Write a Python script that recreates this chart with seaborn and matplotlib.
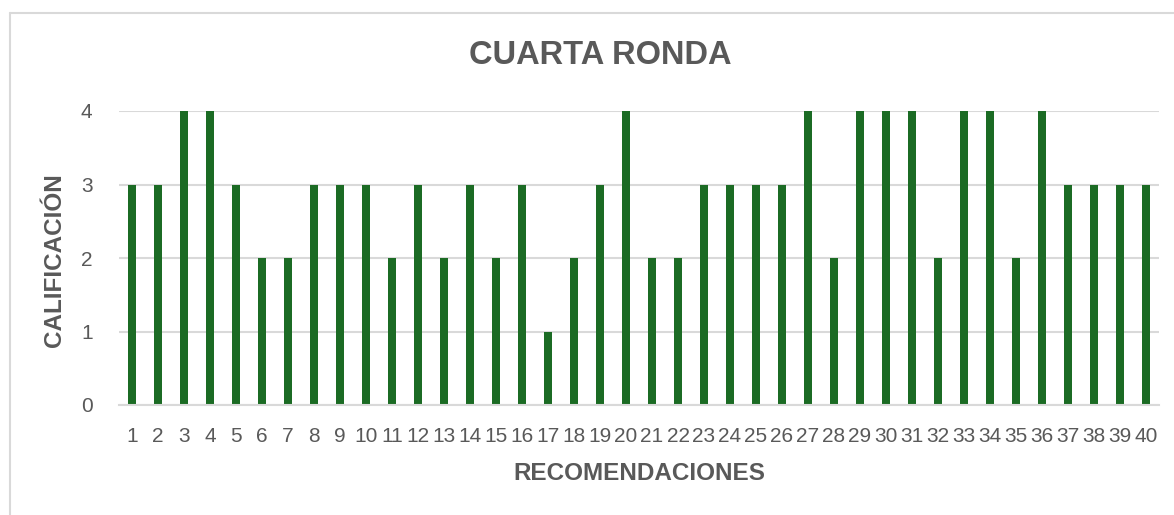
import numpy as np
import pandas as pd
import matplotlib.pyplot as plt
import seaborn as sns
from matplotlib.lines import Line2D

# datos de la cuarta ronda
recomendaciones = [str(i) for i in range(1, 41)]
calificacion = [3, 3, 4, 4, 3, 2, 2, 3, 3, 3,
                2, 3, 2, 3, 2, 3, 1, 2, 3, 4,
                2, 2, 3, 3, 3, 3, 4, 2, 4, 4,
                4, 2, 4, 4, 2, 4, 3, 3, 3, 3]
yticks = [0, 1, 2, 3, 4]

df = pd.DataFrame({'recomendacion': recomendaciones, 'calificacion': calificacion})

sns.set_theme(style='white')
plt.rcParams['font.family'] = ['Liberation Sans', 'DejaVu Sans']

gris = '#595959'
verde = '#1B6B24'
linea = '#D9D9D9'

W, H = 1174, 515
fig = plt.figure(figsize=(W / 100, H / 100), dpi=100)
ax = fig.add_axes([119 / W, 1 - 405 / H, (1159 - 119) / W, (405 - 111) / H])

sns.barplot(data=df, x='recomendacion', y='calificacion', color=verde,
            width=0.31, saturation=1, linewidth=0, ax=ax)

ax.set_xlim(-0.5, len(recomendaciones) - 0.5)
ax.set_ylim(0, 4)
ax.set_yticks(yticks)
ax.set_yticklabels([str(t) for t in yticks])
ax.yaxis.grid(True, color=linea, linewidth=1.5)
ax.set_axisbelow(True)
for s in ['top', 'right', 'left']:
    ax.spines[s].set_visible(False)
ax.spines['bottom'].set_color(linea)
ax.spines['bottom'].set_linewidth(1.5)
ax.tick_params(axis='x', length=0, pad=16, labelsize=15, labelcolor=gris)
ax.tick_params(axis='y', length=0, pad=19, labelsize=15, labelcolor=gris)
ax.set_xlabel('')
ax.set_ylabel('')

fig.text(600 / W, 1 - 56 / H, 'CUARTA RONDA', ha='center', va='center',
         fontsize=23.5, fontweight='bold', color=gris)
fig.text(639 / W, 1 - 474 / H, 'RECOMENDACIONES', ha='center', va='center',
         fontsize=17.5, fontweight='bold', color=gris)
fig.text(55 / W, 1 - 260 / H, 'CALIFICACIÓN', ha='center', va='center',
         rotation=90, fontsize=17.5, fontweight='bold', color=gris)

# borde del área del gráfico
fig.add_artist(Line2D([10 / W, 1], [1 - 13 / H, 1 - 13 / H], color=linea, linewidth=1.5))
fig.add_artist(Line2D([10 / W, 10 / W], [0, 1 - 13 / H], color=linea, linewidth=1.5))

fig.savefig('out.png', dpi=100)
